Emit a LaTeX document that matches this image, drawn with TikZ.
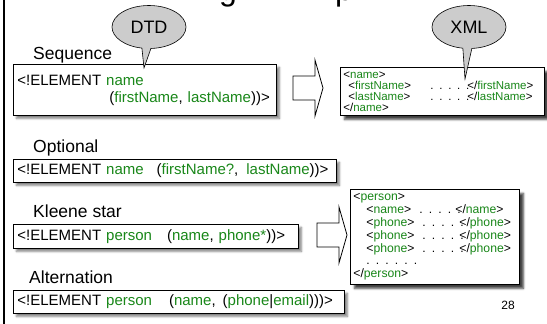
\documentclass[tikz,border=0pt]{standalone}
\usepackage{fontspec}
\setmainfont{Liberation Sans}
\usetikzlibrary{positioning, shapes.callouts, shadows.blur}
\definecolor{tagcol}{RGB}{25,135,25}
\tikzset{
    x=1pt, y=-1pt,                              % pixel grid, y runs downwards
    seclabel/.style={inner sep=0pt, anchor=base west, font=\fontsize{17.5}{20}\selectfont},
    dtdbox/.style={draw, line width=0.8pt, fill=white, anchor=north west, align=left,
        inner xsep=4pt, inner ysep=2pt, font=\fontsize{15}{18}\selectfont,
        blur shadow={shadow xshift=3pt, shadow yshift=-3pt, shadow blur steps=6, shadow opacity=50}},
    xmlbox/.style={draw, line width=0.8pt, fill=white, anchor=north west, align=left,
        inner xsep=3pt, inner ysep=2pt,
        blur shadow={shadow xshift=4pt, shadow yshift=-4pt, shadow blur steps=4, shadow opacity=75}},
    bubble/.style={ellipse callout, draw, line width=0.6pt, fill=gray!40, callout pointer arc=14,
        minimum width=74pt, minimum height=43pt, inner sep=0pt, font=\fontsize{18}{20}\selectfont},
    blockarrow/.pic={
        \draw[line width=0.8pt, fill=white] (0,-12) -- (22,-12) -- (22,-28) -- (30,0)
            -- (22,28) -- (22,12) -- (0,12) -- cycle;
    },
}
\newcommand{\tg}[1]{<\textcolor{tagcol}{#1}>}
\newcommand{\etg}[1]{</\textcolor{tagcol}{#1}>}
\newcommand{\gr}[1]{\textcolor{tagcol}{#1}}

\begin{document}
\begin{tikzpicture}
\useasboundingbox (0,0) rectangle (547,324);
\clip (0,0) rectangle (547,324);

% title, cut off by the top edge
\node[inner sep=0pt, anchor=base west, font=\fontsize{32}{34}\selectfont] (tg) at (219,1) {g};
\node[inner sep=0pt, anchor=base west, font=\fontsize{32}{34}\selectfont] (tp) at (335,1) {p};
\draw[line width=2pt] (3.5,0) -- (3.5,324);

% DTD side
\node[dtdbox, text width=255pt, minimum height=51pt] (seqbox) at (13,64)
    {<!ELEMENT \gr{name}\\[-1pt]\hspace*{92pt}(\gr{firstName}, \gr{lastName}))>};
\node[dtdbox, text width=315pt, minimum height=23pt] (optbox) at (13,159)
    {<!ELEMENT \gr{name}\hspace{13pt}(\gr{firstName?},\hspace{8pt}\gr{lastName}))>};
\node[dtdbox, text width=277pt, minimum height=24pt] (starbox) at (13,224)
    {<!ELEMENT \gr{person}\hspace{15pt}(\gr{name}, \gr{phone*}))>};
\node[dtdbox, text width=323pt, minimum height=23pt] (altbox) at (13,290)
    {<!ELEMENT \gr{person}\hspace{17pt}(\gr{name},\hspace{7pt}(\gr{phone}|\gr{email})))>};

\node[seclabel] (seq) at (33,59) {Sequence};
\node[seclabel] (opt) at (33,152) {Optional};
\node[seclabel] (star) at (33,217) {Kleene star};
\node[seclabel] (alt) at (29,283) {Alternation};

% XML side
\node[xmlbox, text width=198pt, minimum height=48pt, font=\fontsize{11.5}{10.9}\selectfont] (seqxml) at (340,67)
    {\tg{name}\\
     \hspace*{5pt}\makebox[82pt][l]{\tg{firstName}}\makebox[37pt][l]{. . . . .}\etg{firstName}\\
     \hspace*{5pt}\makebox[82pt][l]{\tg{lastName}}\makebox[37pt][l]{. . . . .}\etg{lastName}\\
     \etg{name}};
\node[xmlbox, text width=163pt, minimum height=95pt, font=\fontsize{12.2}{12.9}\selectfont] (starxml) at (350,189)
    {\tg{person}\\
     \hspace*{13pt}\makebox[53pt][l]{\tg{name}}\makebox[36pt][l]{. . . . .}\etg{name}\\
     \hspace*{13pt}\makebox[56pt][l]{\tg{phone}}\makebox[37pt][l]{. . . . .}\etg{phone}\\
     \hspace*{13pt}\makebox[56pt][l]{\tg{phone}}\makebox[37pt][l]{. . . . .}\etg{phone}\\
     \hspace*{13pt}\makebox[56pt][l]{\tg{phone}}\makebox[37pt][l]{. . . . .}\etg{phone}\\
     \hspace*{13pt}. . . . . .\\
     \etg{person}};

\pic at (293,88) {blockarrow};
\pic at (317,235) {blockarrow};

% callouts
\coordinate (dtdtip) at (144,68);
\coordinate (xmltip) at (465,79);
\node[bubble, callout absolute pointer={(dtdtip)}] (dtd) at (149,27) {DTD};
\node[bubble, callout absolute pointer={(xmltip)}] (xml) at (469,27) {XML};

\node[font=\fontsize{12}{14}\selectfont] (pnum) at (508,305) {28};

\end{tikzpicture}
\end{document}
